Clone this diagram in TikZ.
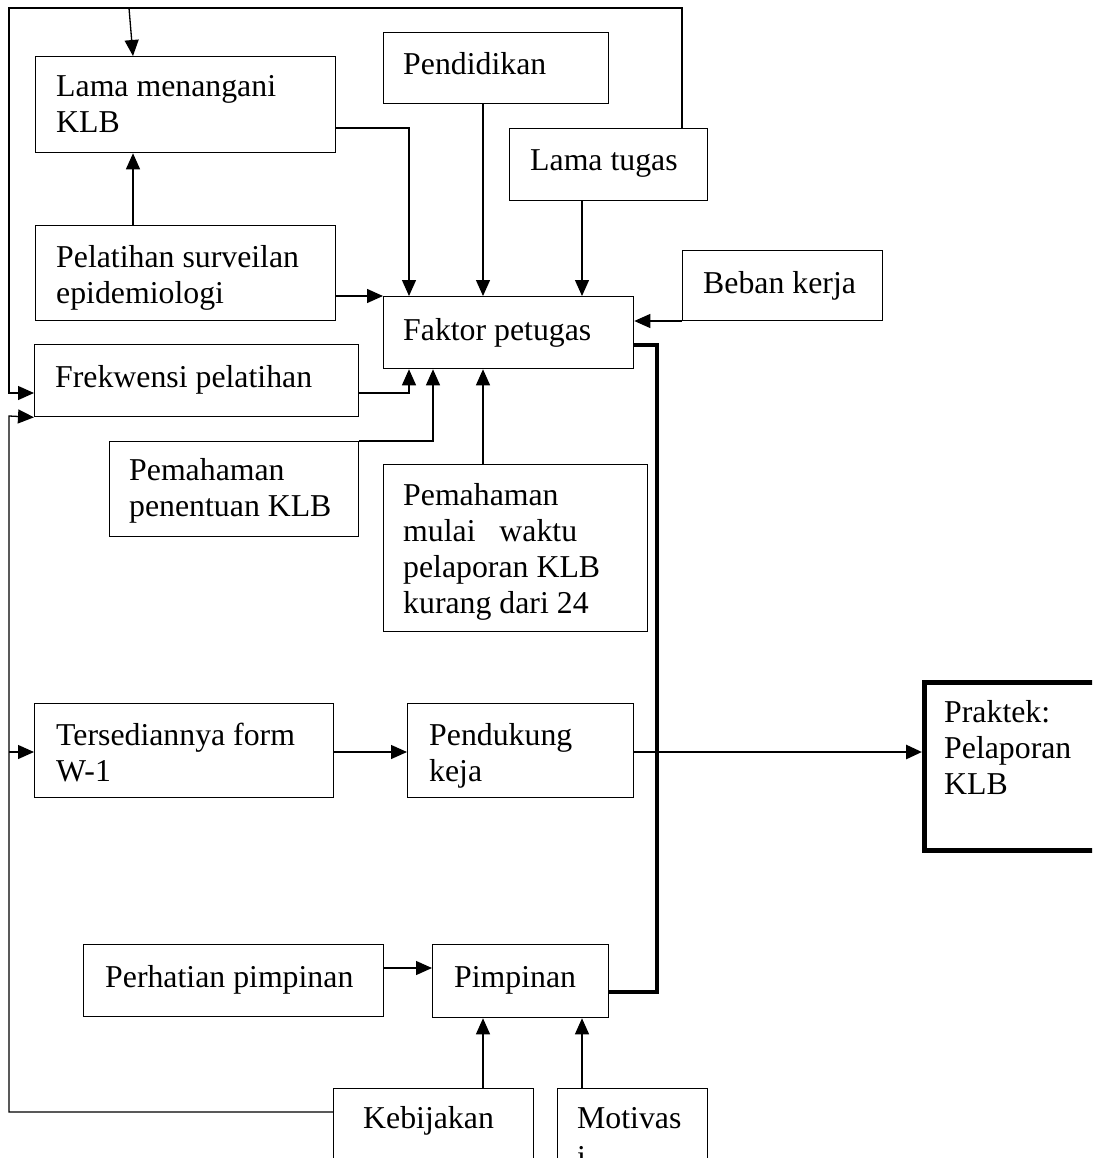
\documentclass[tikz,border=0pt]{standalone}
\usepackage{fontspec}
\setmainfont{Liberation Serif}
\usetikzlibrary{arrows.meta,calc}
\newcommand{\boxlines}[1]{\begin{tabular}[t]{@{}l@{}}#1\end{tabular}}
\begin{document}
\begin{tikzpicture}[x=1pt,y=-1pt,
  box/.style={draw,line width=1.3pt,inner sep=0pt,anchor=north west},
  bigbox/.style={draw,line width=5pt,inner sep=0pt,anchor=north west},
  txt/.style={inner sep=0pt,anchor=base west,font={\fontsize{31.8}{36}\selectfont}},
  arr/.style={line width=1.3pt,-{Triangle[length=16pt,width=14pt]}},
  arrmid/.style={line width=2.8pt,-{Triangle[length=16pt,width=14pt]}},
  thickline/.style={line width=3.5pt,line join=miter}]
\useasboundingbox (0,0) rectangle (1092,1158);
\clip (0,0) rectangle (1092,1158);

% boxes
\node[box,minimum width=300pt,minimum height=96pt] (lama) at (35,56) {};
\node[box,minimum width=225pt,minimum height=71pt] (pend) at (383,32) {};
\node[box,minimum width=198pt,minimum height=72pt] (tugas) at (509,128) {};
\node[box,minimum width=300pt,minimum height=95pt] (pelat) at (35,225) {};
\node[box,minimum width=200pt,minimum height=70pt] (beban) at (682,250) {};
\node[box,minimum width=250pt,minimum height=72pt] (faktor) at (383,296) {};
\node[box,minimum width=324pt,minimum height=72pt] (frek) at (34,344) {};
\node[box,minimum width=249pt,minimum height=95pt] (pempen) at (109,441) {};
\node[box,minimum width=264pt,minimum height=167pt] (pemmul) at (383,464) {};
\node[box,minimum width=299pt,minimum height=94pt] (ters) at (34,703) {};
\node[box,minimum width=226pt,minimum height=94pt] (pendk) at (407,703) {};
\node[bigbox,minimum width=220pt,minimum height=168pt] (praktek) at (922,680) {};
\node[box,minimum width=300pt,minimum height=72pt] (perh) at (83,944) {};
\node[box,minimum width=176pt,minimum height=73pt] (pimp) at (432,944) {};
\node[box,minimum width=200pt,minimum height=100pt] (kebij) at (333,1088) {};
\node[box,minimum width=150pt,minimum height=100pt] (motiv) at (557,1088) {};

% texts
\node[txt] (lama-t) at ([shift={(21,41)}]lama.north west) {\boxlines{Lama menangani\\KLB}};
\node[txt] (pend-t) at ([shift={(20,43)}]pend.north west) {Pendidikan};
\node[txt] (tugas-t) at ([shift={(21,43)}]tugas.north west) {Lama tugas};
\node[txt] (pelat-t) at ([shift={(21,42)}]pelat.north west) {\boxlines{Pelatihan surveilan\\epidemiologi}};
\node[txt] (beban-t) at ([shift={(21,43)}]beban.north west) {Beban kerja};
\node[txt] (faktor-t) at ([shift={(20,44)}]faktor.north west) {Faktor petugas};
\node[txt] (frek-t) at ([shift={(21,43)}]frek.north west) {Frekwensi pelatihan};
\node[txt] (pempen-t) at ([shift={(20,39)}]pempen.north west) {\boxlines{Pemahaman\\penentuan KLB}};
\node[txt] (pemmul-t) at ([shift={(20,41)}]pemmul.north west) {\boxlines{Pemahaman\\mulai\hspace{0.75em}waktu\\pelaporan KLB\\kurang dari 24}};
\node[txt] (ters-t) at ([shift={(22,42)}]ters.north west) {\boxlines{Tersediannya form\\W-1}};
\node[txt] (pendk-t) at ([shift={(22,42)}]pendk.north west) {\boxlines{Pendukung\\keja}};
\node[txt] (praktek-t) at ([shift={(22,42)}]praktek.north west) {\boxlines{Praktek:\\Pelaporan\\KLB}};
\node[txt] (perh-t) at ([shift={(22,43)}]perh.north west) {Perhatian pimpinan};
\node[txt] (pimp-t) at ([shift={(22,43)}]pimp.north west) {Pimpinan};
\node[txt] (kebij-t) at ([shift={(30,40)}]kebij.north west) {Kebijakan};
\node[txt] (motiv-t) at ([shift={(20,40)}]motiv.north west) {\boxlines{Motivas\\[3pt]i}};

% routing coordinates
\coordinate (tr) at (682,8);
\coordinate (tl) at (9,8);
\coordinate (ta) at (129,8);
\coordinate (tb) at (133,0);
\coordinate (fa) at (9,393);
\coordinate (fb) at (9,416);
\coordinate (kb) at (9,1112);
\coordinate (tz) at (9,752);
\coordinate (xa) at (409,128);
\coordinate (xb) at (483,0);
\coordinate (xc) at (582,0);
\coordinate (xd) at (409,393);
\coordinate (xe) at (433,441);
\coordinate (yb) at (0,321);
\coordinate (th1) at (657,345);
\coordinate (th2) at (657,992);
\coordinate (yp) at (0,752);
\coordinate (yh) at (0,968);

% connectors
\draw[arr] (tugas.north -| tr) -- (tr) -- (tl) -- (fa) -- (frek.west |- fa);
\draw[arr] (ta) -- (lama.north -| tb);
\draw[arr] (lama.east |- xa) -- (xa) -- (faktor.north -| xa);
\draw[arr] (pend.south -| xb) -- (faktor.north -| xb);
\draw[arr] (tugas.south -| xc) -- (faktor.north -| xc);
\draw[arr] (pelat.north -| tb) -- (lama.south -| tb);
\draw[arr] (pelat.east |- faktor.north west) -- (faktor.north west);
\draw[arr] (beban.west |- yb) -- (faktor.east |- yb);
\draw[arr] (frek.east |- xd) -- (xd) -- (faktor.south -| xd);
\draw[arr] (pempen.north east) -- (xe) -- (faktor.south -| xe);
\draw[arr] (pemmul.north -| xb) -- (faktor.south -| xb);
\draw[thickline] (faktor.east |- th1) -- (th1) -- (th2) -- (pimp.east |- th2);
\draw[arrmid] (pendk.east |- yp) -- (praktek.west |- yp);
\draw[arr] (ters.east |- yp) -- (pendk.west |- yp);
\draw[arr] (kebij.west |- kb) -- (kb) -- (fb) -- (frek.south west);
\draw[arr] (tz) -- (ters.west |- tz);
\draw[arr] (perh.east |- yh) -- (pimp.west |- yh);
\draw[arr] (kebij.north -| xb) -- (pimp.south -| xb);
\draw[arr] (motiv.north -| xc) -- (pimp.south -| xc);
\end{tikzpicture}
\end{document}
